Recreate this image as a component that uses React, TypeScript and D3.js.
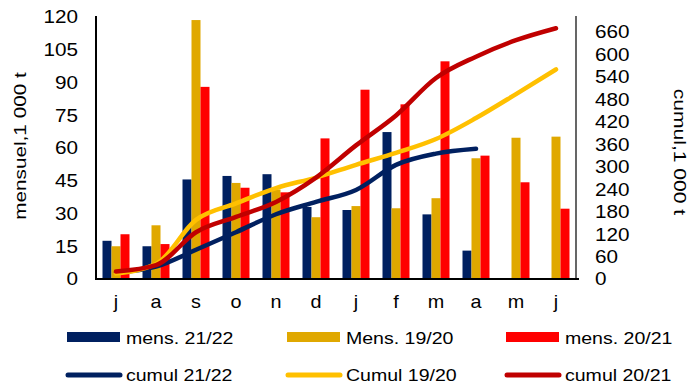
import React from "react";
import * as d3 from "d3";

const months = ["j", "a", "s", "o", "n", "d", "j", "f", "m", "a", "m", "j"];
const leftTicks = [0, 15, 30, 45, 60, 75, 90, 105, 120];
const rightTicks = [0, 60, 120, 180, 240, 300, 360, 420, 480, 540, 600, 660];

const mens2122 = [17.5, 15, 45.6, 47.2, 48, 33, 31.6, 67.3, 29.6, 13, null, null];
const mens1920 = [15, 24.6, 118.6, 44, 41, 28.3, 33.4, 32.4, 37, 55.3, 64.7, 65.2];
const mens2021 = [20.5, 16, 88, 41.8, 39.7, 64.4, 86.7, 80, 99.7, 56.5, 44.3, 32.2];

const cumul2122 = [17, 33, 78, 125, 173, 206, 238, 305, 335, 348];
const cumul1920 = [15, 40, 158, 202, 243, 271, 305, 337, 374, 430, 494, 560];
const cumul2021 = [20, 37, 125, 166, 206, 271, 357, 437, 537, 594, 638, 670];

const NAVY = "#002060";
const GOLD = "#E0A800";
const RED = "#FF0000";
const GOLDL = "#FFC000";
const REDL = "#C00000";
const FONT = "'Liberation Sans', Arial, sans-serif";

function T({ x, y, size, sx = 1, rot = 0, anchor = "start", children }: any) {
  return (
    <text
      transform={`translate(${x},${y}) rotate(${rot}) scale(${sx},1)`}
      fontSize={size}
      fontFamily={FONT}
      textAnchor={anchor}
      dominantBaseline="central"
      fill="#000"
    >
      {children}
    </text>
  );
}

export default function App() {
  const W = 689, H = 385;
  const left = 96, right = 576, top = 17, bottom = 279;
  const idx = months.map((_, i) => String(i));
  const x0 = d3.scaleBand<string>().domain(idx).range([left, right]).paddingInner(0.325).paddingOuter(0.1625);
  const series = ["a", "b", "c"];
  const x1 = d3.scaleBand<string>().domain(series).range([0, x0.bandwidth()]);
  const yL = d3.scaleLinear().domain([0, 120]).range([bottom, top]);
  const yR = d3.scaleLinear().domain([0, 700]).range([bottom, top]);
  const cx = (i: number) => (x0(String(i)) as number) + x0.bandwidth() / 2;

  const barSets: [string, (number | null)[], string][] = [
    ["a", mens2122, NAVY],
    ["b", mens1920, GOLD],
    ["c", mens2021, RED],
  ];
  const line = d3
    .line<number>()
    .x((_, i) => cx(i))
    .y((d) => yR(d))
    .curve(d3.curveMonotoneX);
  const lines: [number[], string][] = [
    [cumul2122, NAVY],
    [cumul1920, GOLDL],
    [cumul2021, REDL],
  ];

  const legend1: [string, string, number][] = [
    ["mens. 21/22", NAVY, 67],
    ["Mens. 19/20", GOLD, 287],
    ["mens. 20/21", RED, 506],
  ];
  const legend2: [string, string, number][] = [
    ["cumul 21/22", NAVY, 67],
    ["Cumul 19/20", GOLDL, 287],
    ["cumul 20/21", REDL, 506],
  ];

  return (
    <svg width={W} height={H} style={{ position: "absolute", left: 0, top: 0, background: "#fff" }}>
      {barSets.map(([k, vals, col]) =>
        vals.map((v, i) =>
          v == null ? null : (
            <rect
              key={k + i}
              x={(x0(String(i)) as number) + (x1(k) as number)}
              y={yL(v)}
              width={x1.bandwidth()}
              height={bottom - yL(v)}
              fill={col}
            />
          )
        )
      )}
      {lines.map(([vals, col], j) => (
        <path key={j} d={line(vals) || ""} fill="none" stroke={col} strokeWidth={4.5} strokeLinejoin="round" strokeLinecap="round" />
      ))}
      <line x1={left} x2={left} y1={top - 1} y2={bottom} stroke="#000" strokeWidth={2} />
      <line x1={right} x2={right} y1={top - 1} y2={bottom} stroke="#000" strokeWidth={1.2} />
      <line x1={left - 1} x2={right + 3} y1={bottom} y2={bottom} stroke="#000" strokeWidth={2} />
      {leftTicks.map((t) => (
        <T key={t} x={78} y={yL(t)} size={18} sx={1.15} anchor="end">
          {t}
        </T>
      ))}
      {rightTicks.map((t) => (
        <T key={t} x={595} y={yR(t)} size={18} sx={1.15}>
          {t}
        </T>
      ))}
      {months.map((m, i) => (
        <T key={i} x={cx(i)} y={302} size={18} sx={1.1} anchor="middle">
          {m}
        </T>
      ))}
      <T x={20} y={146} size={17} sx={1.22} rot={-90} anchor="middle">
        mensuel,1 000 t
      </T>
      <T x={680} y={152} size={17} sx={1.24} rot={90} anchor="middle">
        cumul,1 000 t
      </T>
      {legend1.map(([lab, col, x]) => (
        <g key={lab}>
          <rect x={x} y={332} width={53} height={10} fill={col} />
          <T x={x + 59} y={338} size={17} sx={1.15}>
            {lab}
          </T>
        </g>
      ))}
      {legend2.map(([lab, col, x]) => (
        <g key={lab}>
          <line x1={x + 1} x2={x + 53} y1={375} y2={375} stroke={col} strokeWidth={5} strokeLinecap="round" />
          <T x={x + 59} y={375} size={17} sx={1.15}>
            {lab}
          </T>
        </g>
      ))}
    </svg>
  );
}
